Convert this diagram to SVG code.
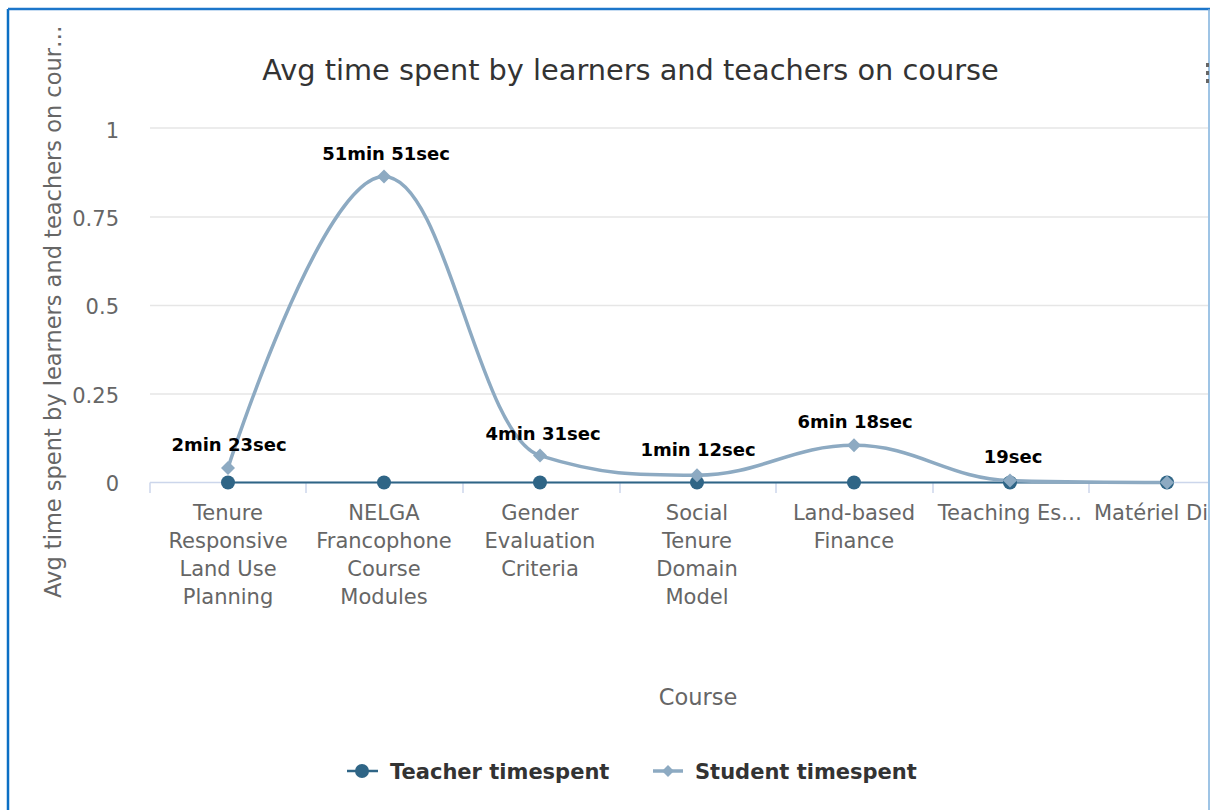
<svg xmlns="http://www.w3.org/2000/svg" xmlns:xlink="http://www.w3.org/1999/xlink" width="1210" height="810" viewBox="0 0 1210 810">
<style>
  .title { font-family: "DejaVu Sans", Verdana, sans-serif; font-size: 28.8px; fill: #333333; }
  .axis-label { font-family: "DejaVu Sans", Verdana, sans-serif; font-size: 21px; fill: #666666; }
  .axis-title { font-family: "DejaVu Sans", Verdana, sans-serif; font-size: 22.5px; fill: #666666; }
  .data-label { font-family: "DejaVu Sans", Verdana, sans-serif; font-size: 18px; font-weight: bold; fill: #000000; text-anchor: middle; }
  .legend-text { font-family: "DejaVu Sans", Verdana, sans-serif; font-size: 21px; font-weight: bold; fill: #333333; }
  .grid { stroke: #e6e6e6; stroke-width: 1.5; fill: none; }
  .axis { stroke: #ccd6eb; stroke-width: 1.5; fill: none; }
  .teacher-line { stroke: #2f6586; stroke-width: 2; fill: none; }
  .student-line { stroke: #8daac2; stroke-width: 3.5; fill: none; stroke-linejoin: round; stroke-linecap: round; }
  .teacher-dot { fill: #2f6586; }
  .student-dot { fill: #8daac2; }
  .ytick { text-anchor: end; }
  .xcat { text-anchor: middle; }
</style>
<defs>
  <circle id="tdot" r="7"/>
  <path id="sdia" d="M0,-7 L7,0 L0,7 L-7,0 Z"/>
</defs>

<rect x="0" y="0" width="1210" height="810" fill="#ffffff"/>

<g id="frame">
  <line x1="8" y1="9" x2="8" y2="810" stroke="#0b6fc4" stroke-width="2.5"/>
  <line x1="8" y1="9" x2="1210" y2="9" stroke="#1c76ca" stroke-width="2.5"/>
  <line x1="1209" y1="9" x2="1209" y2="810" stroke="#7fb0dc" stroke-width="1.5"/>
  <g id="menu-button" fill="#666666">
    <rect x="1206" y="63" width="3" height="4"/>
    <rect x="1206" y="71" width="3" height="4"/>
    <rect x="1206" y="79" width="3" height="4"/>
  </g>
</g>

<g id="title">
  <text class="title" x="630.5" y="80" text-anchor="middle">Avg time spent by learners and teachers on course</text>
</g>

<g id="grid">
  <line class="grid" x1="150" y1="128" x2="1208" y2="128"/>
  <line class="grid" x1="150" y1="217" x2="1208" y2="217"/>
  <line class="grid" x1="150" y1="305.5" x2="1208" y2="305.5"/>
  <line class="grid" x1="150" y1="394" x2="1208" y2="394"/>
</g>

<g id="y-axis">
  <text class="axis-label ytick" x="119" y="137.5">1</text>
  <text class="axis-label ytick" x="119" y="225.5">0.75</text>
  <text class="axis-label ytick" x="119" y="314">0.5</text>
  <text class="axis-label ytick" x="119" y="402.5">0.25</text>
  <text class="axis-label ytick" x="119" y="490.5">0</text>
  <text class="axis-title" transform="translate(61,598) rotate(-90)">Avg time spent by learners and teachers on cour…</text>
</g>

<g id="x-axis">
  <line class="axis" x1="150" y1="482.5" x2="1208" y2="482.5"/>
  <line class="axis" x1="150" y1="482.5" x2="150" y2="493"/>
  <line class="axis" x1="306" y1="482.5" x2="306" y2="493"/>
  <line class="axis" x1="463" y1="482.5" x2="463" y2="493"/>
  <line class="axis" x1="620" y1="482.5" x2="620" y2="493"/>
  <line class="axis" x1="776" y1="482.5" x2="776" y2="493"/>
  <line class="axis" x1="933" y1="482.5" x2="933" y2="493"/>
  <line class="axis" x1="1089" y1="482.5" x2="1089" y2="493"/>
  <text class="axis-label xcat" x="228" y="520">Tenure<tspan x="228" dy="28">Responsive</tspan><tspan x="228" dy="28">Land Use</tspan><tspan x="228" dy="28">Planning</tspan></text>
  <text class="axis-label xcat" x="384" y="520">NELGA<tspan x="384" dy="28">Francophone</tspan><tspan x="384" dy="28">Course</tspan><tspan x="384" dy="28">Modules</tspan></text>
  <text class="axis-label xcat" x="540" y="520">Gender<tspan x="540" dy="28">Evaluation</tspan><tspan x="540" dy="28">Criteria</tspan></text>
  <text class="axis-label xcat" x="697" y="520">Social<tspan x="697" dy="28">Tenure</tspan><tspan x="697" dy="28">Domain</tspan><tspan x="697" dy="28">Model</tspan></text>
  <text class="axis-label xcat" x="854" y="520">Land-based<tspan x="854" dy="28">Finance</tspan></text>
  <text class="axis-label xcat" x="1010" y="520">Teaching Es…</text>
  <text class="axis-label" x="1094" y="520">Matériel Di</text>
  <text class="axis-title" x="698" y="705" text-anchor="middle">Course</text>
</g>

<g id="connectors">
  <line id="teacher-series-line" class="teacher-line" x1="228" y1="482.5" x2="1167" y2="482.5"/>
  <path id="student-series-line" class="student-line" d="M 228 468 C 228 468 321.6 176.5 384 176.5 C 446.4 176.5 477.6 435.8 540 455.6 C 602.8 475.2 634.2 475.2 697 475.2 C 759.8 475.2 791.2 445.3 854 445.3 C 916.4 445.3 947.6 478.5 1010 480.6 C 1072.8 482.5 1167 482.5 1167 482.5"/>
</g>

<g id="teacher-points" class="teacher-dot">
  <g id="t-tenure"><use xlink:href="#tdot" href="#tdot" x="228" y="482.5"/></g>
  <g id="t-nelga"><use xlink:href="#tdot" href="#tdot" x="384" y="482.5"/></g>
  <g id="t-gender"><use xlink:href="#tdot" href="#tdot" x="540" y="482.5"/></g>
  <g id="t-social"><use xlink:href="#tdot" href="#tdot" x="697" y="482.5"/></g>
  <g id="t-landbased"><use xlink:href="#tdot" href="#tdot" x="854" y="482.5"/></g>
  <g id="t-teaching"><use xlink:href="#tdot" href="#tdot" x="1010" y="482.5"/></g>
  <g id="t-materiel"><use xlink:href="#tdot" href="#tdot" x="1167" y="482.5"/></g>
</g>

<g id="student-points" class="student-dot">
  <g id="s-tenure"><use xlink:href="#sdia" href="#sdia" x="228" y="468"/><text class="data-label" x="229" y="451">2min 23sec</text></g>
  <g id="s-nelga"><use xlink:href="#sdia" href="#sdia" x="384" y="176.5"/><text class="data-label" x="386" y="160">51min 51sec</text></g>
  <g id="s-gender"><use xlink:href="#sdia" href="#sdia" x="540" y="455.6"/><text class="data-label" x="543" y="440">4min 31sec</text></g>
  <g id="s-social"><use xlink:href="#sdia" href="#sdia" x="697" y="475.2"/><text class="data-label" x="698" y="456">1min 12sec</text></g>
  <g id="s-landbased"><use xlink:href="#sdia" href="#sdia" x="854" y="445.3"/><text class="data-label" x="855" y="428">6min 18sec</text></g>
  <g id="s-teaching"><use xlink:href="#sdia" href="#sdia" x="1010" y="480.6"/><text class="data-label" x="1013" y="463">19sec</text></g>
  <g id="s-materiel"><use xlink:href="#sdia" href="#sdia" x="1167" y="482.5"/></g>
</g>

<g id="legend">
  <g id="legend-teacher">
    <line class="teacher-line" x1="347" y1="771" x2="378" y2="771" style="stroke-width:2.5"/>
    <use class="teacher-dot" xlink:href="#tdot" href="#tdot" x="362" y="771"/>
    <text class="legend-text" x="390" y="779">Teacher timespent</text>
  </g>
  <g id="legend-student">
    <line class="student-line" x1="653" y1="771" x2="683" y2="771" style="stroke-linecap:butt"/>
    <use class="student-dot" xlink:href="#sdia" href="#sdia" x="668" y="771" transform="translate(668,771) scale(0.85) translate(-668,-771)"/>
    <text class="legend-text" x="695" y="779">Student timespent</text>
  </g>
</g>
</svg>
